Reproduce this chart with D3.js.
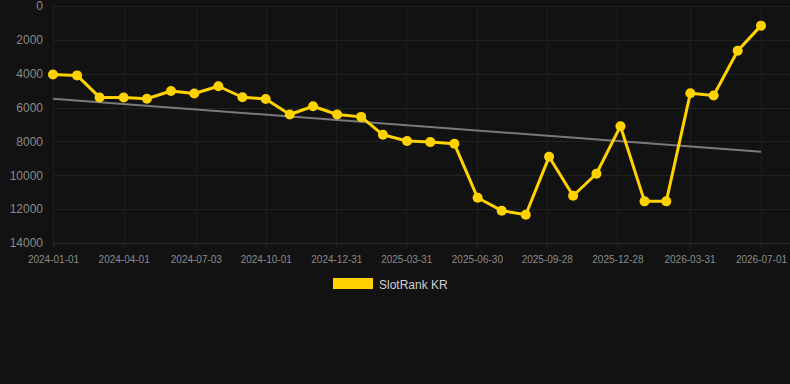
<!DOCTYPE html>
<html><head><meta charset="utf-8">
<script src="https://cdn.jsdelivr.net/npm/d3@7/dist/d3.min.js"></script>
<style>html,body{margin:0;padding:0;background:#121212;}svg{display:block;}</style>
</head><body><svg id="c" width="790" height="384"></svg>
<script>
const dates = ["2024-01-01","2024-02-01","2024-03-01","2024-04-01","2024-05-01","2024-06-01","2024-07-01","2024-08-01","2024-09-01","2024-10-01","2024-11-01","2024-12-01",
"2025-01-01","2025-02-01","2025-03-01","2025-04-01","2025-05-01","2025-06-01","2025-07-01","2025-08-01","2025-09-01","2025-10-01","2025-11-01","2025-12-01",
"2026-01-01","2026-02-01","2026-03-01","2026-04-01","2026-05-01","2026-06-01","2026-07-01"];
const ranks = [4050,4100,5400,5400,5480,5020,5170,4740,5390,5490,6410,5920,
6410,6550,7610,7970,8040,8140,11330,12090,12330,8910,11210,9910,
7100,11540,11540,5150,5290,2640,1160];
const trendDates = ["2024-01-01","2026-07-01"];
const trendValues = [5480,8610];
const xTickLabels = ["2024-01-01","2024-04-01","2024-07-03","2024-10-01","2024-12-31","2025-03-31","2025-06-30","2025-09-28","2025-12-28","2026-03-31","2026-07-01"];
const yTicks = [0,2000,4000,6000,8000,10000,12000,14000];
const seriesName = "SlotRank KR";

const parse = d3.utcParse("%Y-%m-%d");
const svg = d3.select("#c");
const x = d3.scaleUtc().domain([parse("2024-01-01"), parse("2026-07-01")]).range([53, 761]);
const y = d3.scaleLinear().domain([0, 14000]).range([6, 243]);

// grid
svg.append("g").selectAll("line").data(yTicks).join("line")
  .attr("x1", 53).attr("x2", 790).attr("y1", d => Math.round(y(d)) + 0.5).attr("y2", d => Math.round(y(d)) + 0.5)
  .attr("stroke", d => d === 14000 ? "#2e2e2e" : "#222").attr("stroke-width", 1);
svg.append("g").selectAll("line").data(xTickLabels).join("line")
  .attr("x1", d => Math.round(x(parse(d))) + 0.5).attr("x2", d => Math.round(x(parse(d))) + 0.5)
  .attr("y1", 6).attr("y2", 243).attr("stroke", "#1e1e1e");

// y axis labels
const yAxis = d3.axisLeft(y).tickValues(yTicks).tickFormat(d3.format("d")).tickSize(0).tickPadding(10);
const gy = svg.append("g").attr("transform", "translate(53,0)").call(yAxis);
gy.select(".domain").remove();
gy.selectAll("text").attr("fill", "#8a8a8a").style("font-family", "Liberation Sans, Arial, sans-serif").style("font-size", "12px");

// x axis
const xAxis = d3.axisBottom(x).tickValues(xTickLabels.map(parse)).tickFormat((d, i) => xTickLabels[i]).tickSize(4).tickPadding(9);
const gx = svg.append("g").attr("transform", "translate(0,243)").call(xAxis);
gx.select(".domain").remove();
gx.selectAll("line").attr("stroke", "#2a2a2a");
gx.selectAll("text").attr("fill", "#8a8a8a").style("font-family", "Liberation Sans, Arial, sans-serif").style("font-size", "10px");

// trend
svg.append("path").datum(trendDates.map((d, i) => [parse(d), trendValues[i]]))
  .attr("d", d3.line().x(d => x(d[0])).y(d => y(d[1])))
  .attr("fill", "none").attr("stroke", "#7a7a7a").attr("stroke-width", 2);

// series
const data = dates.map((d, i) => ({date: parse(d), v: ranks[i]}));
svg.append("path").datum(data)
  .attr("d", d3.line().x(d => x(d.date)).y(d => y(d.v)))
  .attr("fill", "none").attr("stroke", "#FFD200").attr("stroke-width", 3).attr("stroke-linejoin", "round");
svg.append("g").selectAll("circle").data(data).join("circle")
  .attr("cx", d => x(d.date)).attr("cy", d => y(d.v)).attr("r", 5).attr("fill", "#FFD200");

// legend
const lg = svg.append("g");
lg.append("rect").attr("x", 333).attr("y", 278).attr("width", 40).attr("height", 11).attr("fill", "#FFD200");
lg.append("text").attr("x", 379).attr("y", 288.5).text(seriesName)
  .attr("fill", "#cfcfcf").style("font-family", "Liberation Sans, Arial, sans-serif").style("font-size", "12px");
</script></body></html>
